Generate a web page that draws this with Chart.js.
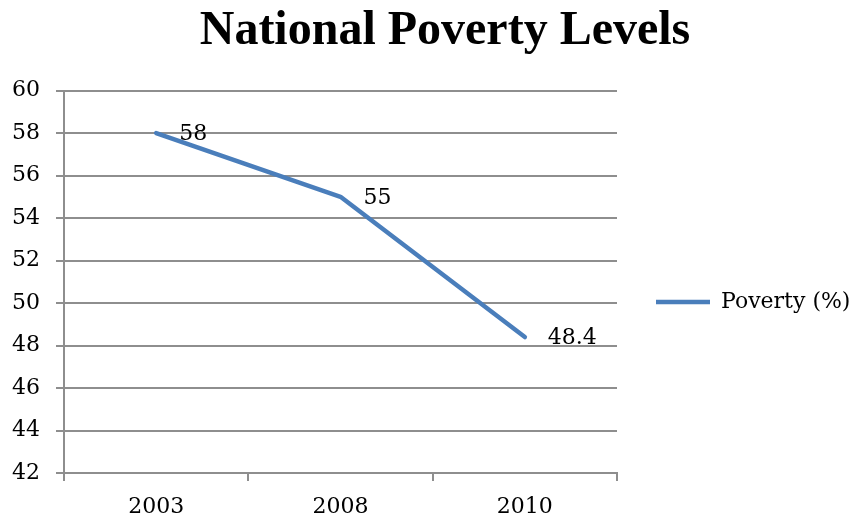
<!DOCTYPE html>
<html>
<head>
<meta charset="utf-8">
<title>National Poverty Levels</title>
<script src="https://cdn.jsdelivr.net/npm/chart.js@4"></script>
<style>
  body { margin: 0; background: #fff; }
  #wrap { width: 856px; height: 520px; }
</style>
</head>
<body>
<div id="wrap"><canvas id="povertyChart" width="856" height="520"></canvas></div>
<script>
// values
const years = ["2003", "2008", "2010"];
const poverty = [58, 55, 48.4];
const seriesName = "Poverty (%)";
const yMin = 42;
const yMax = 60;
const yStep = 2;

const gridGrey = "#8e8e8e";
const lineBlue = "#4a7ebb";

Chart.defaults.font.family = "'DejaVu Serif', serif";
Chart.defaults.font.size = 22;
Chart.defaults.color = "#000";

// value printed just right of each point
const valueLabels = {
  id: "valueLabels",
  afterDatasetsDraw(chart) {
    const ctx = chart.ctx;
    const meta = chart.getDatasetMeta(0);
    ctx.save();
    ctx.font = "22px 'DejaVu Serif'";
    ctx.fillStyle = "#000";
    ctx.textAlign = "left";
    ctx.textBaseline = "middle";
    meta.data.forEach((pt, i) => ctx.fillText(String(poverty[i]), pt.x + 23, pt.y + 1));
    ctx.restore();
  }
};

// original has the title a little right of centre and the legend a bit below the middle
const boxNudge = {
  id: "boxNudge",
  afterLayout(chart) {
    chart.titleBlock.left += 17;
    chart.titleBlock.right += 17;
    chart.legend.top += 42;
    chart.legend.bottom += 42;
  }
};

new Chart(document.getElementById("povertyChart"), {
  type: "line",
  data: {
    labels: years,
    datasets: [{
      label: seriesName,
      data: poverty,
      borderColor: lineBlue,
      backgroundColor: lineBlue,
      borderWidth: 4.5,
      borderCapStyle: "round",
      borderJoinStyle: "round",
      pointRadius: 0,
      tension: 0,
      fill: false
    }]
  },
  options: {
    responsive: false,
    animation: false,
    layout: { padding: 0 },
    plugins: {
      title: {
        display: true,
        text: "National Poverty Levels",
        color: "#000",
        font: { family: "'Liberation Serif', serif", size: 48, weight: "bold" },
        padding: { top: 3, bottom: 30 }
      },
      legend: {
        position: "right",
        maxWidth: 239,
        labels: {
          usePointStyle: true,
          pointStyle: "line",
          pointStyleWidth: 54,
          padding: 39,
          color: "#000",
          font: { size: 22 }
        }
      },
      tooltip: { enabled: false }
    },
    scales: {
      x: {
        offset: true,
        grid: { offset: true, drawOnChartArea: false, color: gridGrey, lineWidth: 2, tickLength: 8 },
        border: { color: gridGrey, width: 2 },
        ticks: { padding: 13, maxRotation: 0, color: "#000" },
        afterFit(scale) { scale.height = 47; }
      },
      y: {
        min: yMin,
        max: yMax,
        ticks: { stepSize: yStep, padding: 16, color: "#000" },
        grid: { color: gridGrey, lineWidth: 2, tickLength: 8 },
        border: { color: gridGrey, width: 2 },
        afterFit(scale) { scale.width = 64; }
      }
    }
  },
  plugins: [valueLabels, boxNudge]
});
</script>
</body>
</html>
